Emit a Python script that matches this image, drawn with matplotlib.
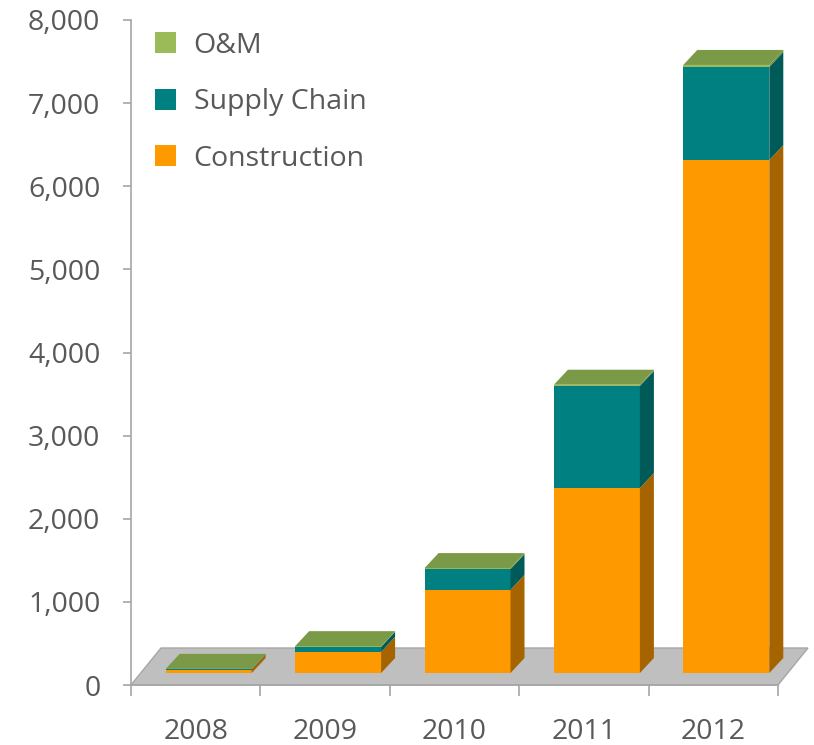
import numpy as np
import matplotlib
matplotlib.use('Agg')
import matplotlib.pyplot as plt
from matplotlib.patches import Polygon, Rectangle, Patch
from matplotlib.ticker import FuncFormatter

plt.rcParams['font.family'] = ['Open Sans', 'DejaVu Sans']

# data
years = ['2008', '2009', '2010', '2011', '2012']
construction = [40, 255, 1000, 2225, 6170]
supply_chain = [5, 60, 250, 1228, 1120]
om = [5, 8, 12, 15, 25]

# colours: (front, side)
c_cons = ('#FF9900', '#A66400')
c_supp = ('#008080', '#005A58')
c_om = ('#9BBB59', '#6E8A3A')
c_top = '#7A9A47'
txt = '#595959'

fig = plt.figure(figsize=(8.14, 7.45), dpi=100)
W, H = 814, 745
x_left, x_right, y_bot, y_top = 131, 814, 685, 20
ax = fig.add_axes([x_left / W, 1 - y_bot / H, (x_right - x_left) / W, (y_bot - y_top) / H])

px_x = 129.4            # pixels per category
px_y = 83.125 / 1000    # pixels per unit value
ax.set_xlim(0, (x_right - x_left) / px_x)
ax.set_ylim(0, 8000)

# floor
fdx, fdy = 30 / px_x, 37 / px_y
floor = Polygon([(0, 0), (5, 0), (5 + fdx, fdy), (fdx, fdy)], closed=True,
                facecolor='#BFBFBF', edgecolor='#A6A6A6', lw=1, zorder=1, clip_on=False)
ax.add_patch(floor)

# bars, pseudo 3d
w = 86 / px_x
sx, sy = 13 / px_x, 12 / px_y     # bar plane shift
dx, dy = 14 / px_x, 15 / px_y     # bar depth

for i in range(len(years)):
    x0 = i + 0.5 - w / 2 + sx
    bottom = sy
    for val, (cf, cs) in zip([construction[i], supply_chain[i], om[i]], [c_cons, c_supp, c_om]):
        top = bottom + val
        ax.add_patch(Rectangle((x0, bottom), w, val, facecolor=cf, edgecolor='none', zorder=3))
        ax.add_patch(Polygon([(x0 + w, bottom), (x0 + w + dx, bottom + dy),
                              (x0 + w + dx, top + dy), (x0 + w, top)],
                             closed=True, facecolor=cs, edgecolor='none', zorder=3))
        bottom = top
    ax.add_patch(Polygon([(x0, bottom), (x0 + w, bottom), (x0 + w + dx, bottom + dy),
                          (x0 + dx, bottom + dy)], closed=True,
                         facecolor=c_top, edgecolor='none', zorder=3))

# axes
for s in ['top', 'right']:
    ax.spines[s].set_visible(False)
ax.spines['left'].set_color('#A6A6A6')
ax.spines['bottom'].set_color('#A6A6A6')
ax.spines['bottom'].set_bounds(0, 5)
ax.spines['left'].set_linewidth(1.2)
ax.spines['bottom'].set_linewidth(1.2)

ax.set_yticks(np.arange(0, 8001, 1000))
ax.yaxis.set_major_formatter(FuncFormatter(lambda v, p: f'{int(v):,}'))
ax.tick_params(axis='y', length=6, width=1.2, color='#A6A6A6', pad=16,
               labelsize=20.5, labelcolor=txt)

ax.set_xticks(np.arange(0, 6))
ax.set_xticklabels([''] * 6)
ax.tick_params(axis='x', which='major', length=8, width=1.2, color='#A6A6A6')
ax.set_xticks(np.arange(len(years)) + 0.5, minor=True)
ax.set_xticklabels(years, minor=True)
ax.tick_params(axis='x', which='minor', length=0, pad=24, labelsize=20.5, labelcolor=txt)

handles = [Patch(facecolor=c_om[0], label='O&M'),
           Patch(facecolor=c_supp[0], label='Supply Chain'),
           Patch(facecolor=c_cons[0], label='Construction')]
leg = ax.legend(handles=handles, loc='upper left', bbox_to_anchor=(0.014, 1.004),
                frameon=False, fontsize=20.5, handlelength=0.76, handleheight=0.76,
                handletextpad=0.6, labelspacing=1.0, borderpad=0)
for t in leg.get_texts():
    t.set_color(txt)

fig.savefig('out.png', dpi=100)
